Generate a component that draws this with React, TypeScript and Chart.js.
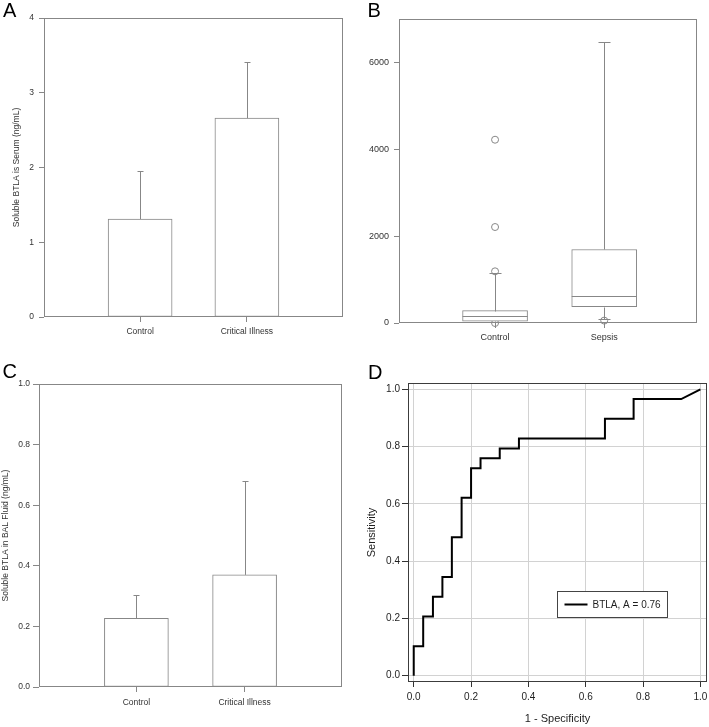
import React, { useEffect, useRef } from "react";
import { Chart, registerables } from "chart.js";
Chart.register(...registerables);

const FONT = "'Liberation Sans', Arial, Helvetica, sans-serif";
const GRAY = "#878787";
const TXT = "#333333";
const DARK = "#1e1e1e";

// ---------- Panel A: serum ----------
const serumCategories = ["Control", "Critical Illness"];
const serumMean = [1.31, 2.66];
const serumErr = [0.64, 0.75];
const serumTicks = [0, 1, 2, 3, 4];

// ---------- Panel B: sepsis box plot ----------
const sepsisCategories = ["Control", "Sepsis"];
const boxLow = [15, 100];
const boxQ1 = [40, 378];
const boxMedian = [170, 616];
const boxQ3 = [285, 1693];
const boxHigh = [1140, 6470];
const controlOutliers = [0, 1190, 2210, 4220];
const sepsisOutliers = [55];
const sepsisTicks = [0, 2000, 4000, 6000];

// ---------- Panel C: BAL fluid ----------
const balCategories = ["Control", "Critical Illness"];
const balMean = [0.227, 0.37];
const balErr = [0.076, 0.311];
const balTicks = [0, 0.2, 0.4, 0.6, 0.8, 1.0];

// ---------- Panel D: ROC ----------
const rocFpr = [0, 0, 0.033, 0.033, 0.067, 0.067, 0.1, 0.1, 0.133, 0.133, 0.167, 0.167, 0.2, 0.2, 0.233, 0.233, 0.3, 0.3, 0.367, 0.367, 0.667, 0.667, 0.767, 0.767, 0.933, 1.0];
const rocTpr = [0, 0.103, 0.103, 0.207, 0.207, 0.276, 0.276, 0.345, 0.345, 0.483, 0.483, 0.621, 0.621, 0.724, 0.724, 0.759, 0.759, 0.793, 0.793, 0.828, 0.828, 0.897, 0.897, 0.966, 0.966, 1.0];
const rocTicks = [0, 0.2, 0.4, 0.6, 0.8, 1.0];
const rocLabel = "BTLA, A = 0.76";

function framePlugin(color: string) {
  return {
    id: "frame",
    afterDatasetsDraw(chart: any) {
      const { ctx, chartArea: a } = chart;
      ctx.save();
      ctx.strokeStyle = color;
      ctx.lineWidth = 1;
      const l = Math.round(a.left) + 0.5;
      const t = Math.round(a.top) + 0.5;
      const r = Math.round(a.right) - 0.5;
      const b = Math.round(a.bottom) - 0.5;
      ctx.strokeRect(l, t, r - l, b - t);
      ctx.restore();
    },
  };
}

function letterPlugin(text: string, x: number, y: number) {
  return {
    id: "panelLetter",
    afterDraw(chart: any) {
      const ctx = chart.ctx;
      ctx.save();
      ctx.fillStyle = "#000";
      ctx.font = `20px ${FONT}`;
      ctx.textAlign = "left";
      ctx.textBaseline = "alphabetic";
      ctx.fillText(text, x, y);
      ctx.restore();
    },
  };
}

function errorBarPlugin(mean: number[], err: number[]) {
  return {
    id: "errorBars",
    afterDatasetsDraw(chart: any) {
      const { ctx } = chart;
      const ys = chart.scales.y;
      const meta = chart.getDatasetMeta(0);
      ctx.save();
      ctx.strokeStyle = GRAY;
      ctx.lineWidth = 1;
      meta.data.forEach((el: any, i: number) => {
        const x = Math.round(el.x) + 0.5;
        const y0 = ys.getPixelForValue(mean[i]);
        const y1 = Math.round(ys.getPixelForValue(mean[i] + err[i])) + 0.5;
        ctx.beginPath();
        ctx.moveTo(x, y0);
        ctx.lineTo(x, y1);
        ctx.moveTo(x - 3, y1);
        ctx.lineTo(x + 3, y1);
        ctx.stroke();
      });
      ctx.restore();
    },
  };
}

function boxPlugin() {
  return {
    id: "boxParts",
    afterDatasetsDraw(chart: any) {
      const { ctx } = chart;
      const ys = chart.scales.y;
      const meta = chart.getDatasetMeta(0);
      ctx.save();
      ctx.strokeStyle = GRAY;
      ctx.lineWidth = 1;
      meta.data.forEach((el: any, i: number) => {
        const x = Math.round(el.x) + 0.5;
        const half = el.width / 2;
        const py = (v: number) => Math.round(ys.getPixelForValue(v)) + 0.5;
        ctx.beginPath();
        ctx.moveTo(el.x - half, py(boxMedian[i]));
        ctx.lineTo(el.x + half, py(boxMedian[i]));
        ctx.moveTo(x, py(boxQ3[i]));
        ctx.lineTo(x, py(boxHigh[i]));
        ctx.moveTo(x - 6, py(boxHigh[i]));
        ctx.lineTo(x + 6, py(boxHigh[i]));
        ctx.moveTo(x, py(boxQ1[i]));
        ctx.lineTo(x, py(boxLow[i]));
        ctx.moveTo(x - 6, py(boxLow[i]));
        ctx.lineTo(x + 6, py(boxLow[i]));
        ctx.stroke();
      });
      ctx.restore();
    },
  };
}

function legendBoxPlugin(dx: number, dy: number, w: number, h: number) {
  return {
    id: "legendBox",
    afterDatasetsDraw(chart: any) {
      const { ctx, chartArea: a } = chart;
      const ds = chart.data.datasets[0];
      const l = Math.round(a.left + dx) + 0.5;
      const t = Math.round(a.top + dy) + 0.5;
      ctx.save();
      ctx.fillStyle = "#fff";
      ctx.fillRect(l, t, w, h);
      ctx.strokeStyle = "#444";
      ctx.lineWidth = 1;
      ctx.strokeRect(l, t, w, h);
      ctx.strokeStyle = ds.borderColor;
      ctx.lineWidth = 2;
      ctx.beginPath();
      ctx.moveTo(l + 7, t + h / 2);
      ctx.lineTo(l + 30, t + h / 2);
      ctx.stroke();
      ctx.fillStyle = DARK;
      ctx.font = `10px ${FONT}`;
      ctx.textBaseline = "middle";
      ctx.textAlign = "left";
      ctx.fillText(ds.label, l + 35, t + h / 2 + 0.5);
      ctx.restore();
    },
  };
}

function fixX(h: number) {
  return (s: any) => {
    s.height = h;
    s.paddingLeft = 0;
    s.paddingRight = 0;
  };
}

function fixY(w: number) {
  return (s: any) => {
    s.width = w;
    s.paddingTop = 0;
    s.paddingBottom = 0;
  };
}

function catXScale(categories: string[], min: number, max: number, xHeight: number, fontSize: number, pad: number) {
  return {
    type: "linear",
    min,
    max,
    offset: false,
    afterBuildTicks: (s: any) => {
      s.ticks = categories.map((_, i) => ({ value: i }));
    },
    afterFit: fixX(xHeight),
    grid: { display: true, drawOnChartArea: false, drawTicks: true, tickLength: 5, color: GRAY, tickColor: GRAY, offset: false },
    border: { display: false },
    ticks: {
      autoSkip: false,
      maxRotation: 0,
      padding: pad,
      color: TXT,
      font: { family: FONT, size: fontSize },
      callback: (v: any) => categories[v] ?? "",
    },
  };
}

function valueYScale(ticks: number[], min: number, max: number, yWidth: number, fontSize: number, tickLen: number, pad: number, fmt: (v: number) => string, title?: { text: string; top: number }) {
  return {
    type: "linear",
    min,
    max,
    afterBuildTicks: (s: any) => {
      s.ticks = ticks.map((v) => ({ value: v }));
    },
    afterFit: fixY(yWidth),
    grid: { display: true, drawOnChartArea: false, drawTicks: true, tickLength: tickLen, color: GRAY, tickColor: GRAY },
    border: { display: false },
    ticks: {
      autoSkip: false,
      padding: pad,
      color: TXT,
      font: { family: FONT, size: fontSize },
      callback: (v: any) => fmt(Number(v)),
    },
    title: title
      ? { display: true, text: title.text, color: TXT, font: { family: FONT, size: 8.5 }, padding: { top: title.top, bottom: 0 } }
      : { display: false },
  };
}

function configA() {
  return {
    type: "bar",
    data: {
      datasets: [
        {
          data: serumMean.map((m, i) => ({ x: i, y: m })),
          backgroundColor: "#ffffff",
          borderColor: GRAY,
          borderWidth: 1,
          borderSkipped: false,
          barThickness: 64,
        },
      ],
    },
    options: {
      responsive: false,
      animation: false,
      layout: { padding: { top: 18, right: 12, left: 0, bottom: 0 } },
      plugins: { legend: { display: false }, tooltip: { enabled: false } },
      scales: {
        x: catXScale(serumCategories, -0.9, 1.9, 33, 8.5, 5),
        y: valueYScale(serumTicks, 0, 4, 44, 8.5, 5, 5, (v) => String(v), { text: "Soluble BTLA is Serum (ng/mL)", top: 12 }),
      },
    },
    plugins: [errorBarPlugin(serumMean, serumErr), framePlugin(GRAY), letterPlugin("A", 3, 17)],
  };
}

function configB() {
  return {
    type: "bar",
    data: {
      datasets: [
        {
          type: "bar",
          data: boxQ1.map((q, i) => ({ x: i, y: [q, boxQ3[i]] })),
          backgroundColor: "#ffffff",
          borderColor: GRAY,
          borderWidth: 1,
          borderSkipped: false,
          barThickness: 65,
        },
        {
          type: "scatter",
          data: [
            ...controlOutliers.map((v) => ({ x: 0, y: v })),
            ...sepsisOutliers.map((v) => ({ x: 1, y: v })),
          ],
          pointRadius: 3.5,
          pointBackgroundColor: "rgba(255,255,255,0)",
          pointBorderColor: GRAY,
          pointBorderWidth: 1,
          showLine: false,
          clip: false,
        },
      ],
    },
    options: {
      responsive: false,
      animation: false,
      layout: { padding: { top: 19, right: 12, left: 0, bottom: 0 } },
      plugins: { legend: { display: false }, tooltip: { enabled: false } },
      scales: {
        x: catXScale(sepsisCategories, -0.88, 1.85, 27, 9, 4),
        y: valueYScale(sepsisTicks, 0, 7000, 44, 9, 5, 5, (v) => String(Math.round(v))),
      },
    },
    plugins: [boxPlugin(), framePlugin(GRAY), letterPlugin("B", 12.5, 16.7)],
  };
}

function configC() {
  return {
    type: "bar",
    data: {
      datasets: [
        {
          data: balMean.map((m, i) => ({ x: i, y: m })),
          backgroundColor: "#ffffff",
          borderColor: GRAY,
          borderWidth: 1,
          borderSkipped: false,
          barThickness: 64,
        },
      ],
    },
    options: {
      responsive: false,
      animation: false,
      layout: { padding: { top: 24, right: 13, left: 0, bottom: 0 } },
      plugins: { legend: { display: false }, tooltip: { enabled: false } },
      scales: {
        x: catXScale(balCategories, -0.9, 1.9, 40, 8.5, 5.5),
        y: valueYScale(balTicks, 0, 1, 39, 8.5, 6, 3, (v) => v.toFixed(1), { text: "Soluble BTLA in BAL Fluid (ng/mL)", top: 1 }),
      },
    },
    plugins: [errorBarPlugin(balMean, balErr), framePlugin(GRAY), letterPlugin("C", 2.5, 17.7)],
  };
}

function configD() {
  const GRID = "#d2d2d2";
  const TICK = "#333";
  return {
    type: "scatter",
    data: {
      datasets: [
        {
          label: rocLabel,
          data: rocFpr.map((x, i) => ({ x, y: rocTpr[i] })),
          showLine: true,
          borderColor: "#000000",
          borderWidth: 2,
          pointRadius: 0,
          tension: 0,
          fill: false,
        },
      ],
    },
    options: {
      responsive: false,
      animation: false,
      layout: { padding: { top: 23, right: 2, left: 0, bottom: 0 } },
      plugins: { legend: { display: false }, tooltip: { enabled: false } },
      scales: {
        x: {
          type: "linear",
          min: -0.02,
          max: 1.023,
          afterBuildTicks: (s: any) => {
            s.ticks = rocTicks.map((v) => ({ value: v }));
          },
          afterFit: fixX(45),
          grid: { display: true, drawOnChartArea: true, drawTicks: true, tickLength: 5, color: GRID, tickColor: TICK },
          border: { display: false },
          ticks: { autoSkip: false, maxRotation: 0, padding: 4, color: DARK, font: { family: FONT, size: 10 }, callback: (v: any) => Number(v).toFixed(1) },
          title: { display: true, text: "1 - Specificity", color: DARK, font: { family: FONT, size: 11 }, padding: { top: 0, bottom: 1 } },
        },
        y: {
          type: "linear",
          min: -0.022,
          max: 1.022,
          afterBuildTicks: (s: any) => {
            s.ticks = rocTicks.map((v) => ({ value: v }));
          },
          afterFit: fixY(53),
          grid: { display: true, drawOnChartArea: true, drawTicks: true, tickLength: 6, color: GRID, tickColor: TICK },
          border: { display: false },
          ticks: { autoSkip: false, padding: 2, color: DARK, font: { family: FONT, size: 10 }, callback: (v: any) => Number(v).toFixed(1) },
          title: { display: true, text: "Sensitivity", color: DARK, font: { family: FONT, size: 11 }, padding: { top: 10, bottom: 0 } },
        },
      },
    },
    plugins: [legendBoxPlugin(149, 208, 110, 26), framePlugin("#3c3c3c"), letterPlugin("D", 13, 19)],
  };
}

function Panel({ make, left, top, width, height }: { make: () => any; left: number; top: number; width: number; height: number }) {
  const ref = useRef<HTMLCanvasElement>(null);
  useEffect(() => {
    const chart = new Chart(ref.current as HTMLCanvasElement, make());
    return () => chart.destroy();
  }, []);
  return (
    <canvas
      ref={ref}
      width={width}
      height={height}
      style={{ position: "absolute", left, top, width, height, display: "block" }}
    />
  );
}

export default function App() {
  return (
    <div style={{ position: "absolute", left: 0, top: 0, width: 709, height: 727, background: "#ffffff", overflow: "hidden" }}>
      <Panel make={configA} left={0} top={0} width={355} height={350} />
      <Panel make={configB} left={355} top={0} width={354} height={350} />
      <Panel make={configC} left={0} top={360} width={355} height={367} />
      <Panel make={configD} left={355} top={360} width={354} height={367} />
    </div>
  );
}
